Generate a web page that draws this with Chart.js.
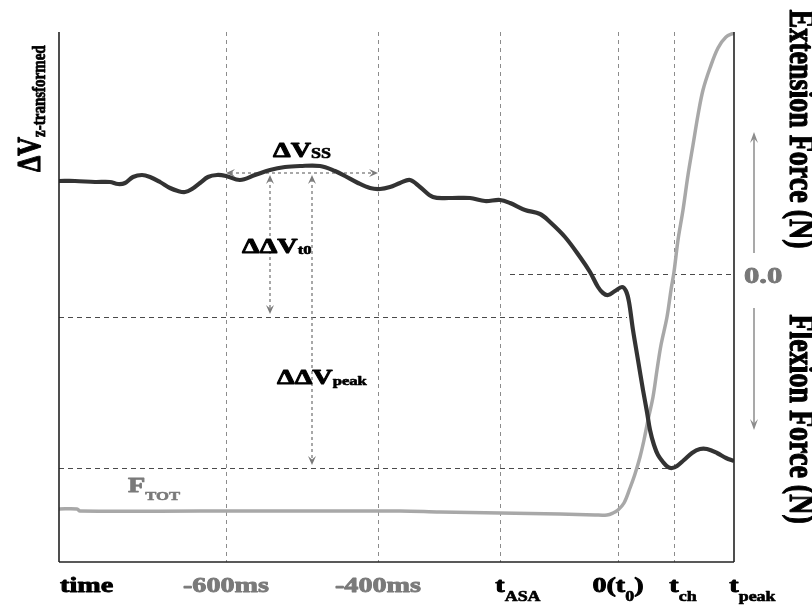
<!DOCTYPE html>
<html>
<head>
<meta charset="utf-8">
<script src="https://cdn.jsdelivr.net/npm/chart.js@4.4.1/dist/chart.umd.min.js"></script>
<style>
html,body{margin:0;padding:0;background:#fff;}
canvas{display:block;}
</style>
</head>
<body>
<canvas id="c" width="812" height="606"></canvas>
<script>
// ---------- DATA (schematic units) ----------
// ΔV (z-transformed) trace: schematic time units / arbitrary ΔV units
const vTime   = [0,16,36,51,59,66,74,83,91,101,111,119,126,133,141,149,158,167,181,196,211,226,241,261,276,286,299,311,321,331,341,351,361,374,391,411,426,441,451,466,481,491,506,521,531,539,544,549,556,563,567,570,574,579,584,588,591,595,599,604,609,613,618,625,633,641,648,658,667,675];
const vValues = [381,381,380,380,378,379,385,387,385,380,374,371,370,373,379,385,387,386,382,387,392,395,396,396,391,386,379,374,373,375,379,382,375,365,364,364,361,362,359,352,348,340,325,305,290,275,269,267,271,275,271,260,232,202,172,150,132,117,107,100,95,94,96,102,109,113,113,109,104,101];

// Total force trace F_TOT (extension positive, flexion negative)
const fTime   = [0,18,21,141,341,381,441,501,536,548,554,559,565,571,576,581,585,589,594,598,602,608,612,615,619,624,629,634,639,644,651,659,667,675];
const fValues = [-235,-235,-237,-237,-237,-238,-239,-240,-241,-241,-239,-236,-229,-214,-200,-183,-166,-146,-123,-96,-71,-43,-16,2,34,64,99,129,159,184,206,226,237,241];

// Time axis labels (main text, subscript, trailing text)
const xTickValues = [0, 167, 319, 441, 559, 615, 675];
const xTickMain   = ['time', '-600ms', '-400ms', 't', '0(t', 't', 't'];
const xTickSub    = ['', '', '', 'ASA', '0', 'ch', 'peak'];
const xTickTail   = ['', '', '', '', ')', '', ''];
const gridXValues = [167, 319, 441, 559, 615];

// Reference levels
const vLevels     = [245, 94];          // ΔV at t0, ΔV at peak
const vLevelEnds  = [568, 614];         // where those dashed levels stop (time units)
const forceZero   = 0;
const forceZeroStart = 451;
const vSteady     = 389;                // ΔV_SS arrow level
const ssRange     = [167, 319];
const arrowTimes  = [211, 253];         // ΔΔV_t0, ΔΔV_peak arrows
const arrowTops   = [387, 387];
const arrowBottoms= [248, 97];

// ---------- DRAWING HELPERS ----------
const SERIF = '"Liberation Serif", "Times New Roman", serif';
const SX = 1.28;
function fnt(sz){ return 'bold ' + sz + 'px ' + SERIF; }
function rich(ctx, x, y, segs, o) {
  o = o || {};
  ctx.save();
  ctx.translate(x, y);
  ctx.scale(o.sx || SX, 1);
  if (o.rot) ctx.rotate(o.rot);
  const widths = segs.map(s => { ctx.font = fnt(s.size); return ctx.measureText(s.text).width; });
  const total = widths.reduce((a, b) => a + b, 0);
  let cx = 0;
  if (o.align === 'center') cx = -total / 2;
  else if (o.align === 'first') cx = -widths[0] / 2;
  else if (o.align === 'right') cx = -total;
  ctx.textBaseline = 'alphabetic';
  ctx.textAlign = 'left';
  ctx.lineJoin = 'round';
  segs.forEach((s, i) => {
    ctx.font = fnt(s.size);
    const c = s.color || o.color || '#000';
    ctx.fillStyle = c;
    ctx.strokeStyle = c;
    ctx.lineWidth = s.size > 16 ? 0.9 : 0.6;
    ctx.fillText(s.text, cx, s.dy || 0);
    ctx.strokeText(s.text, cx, s.dy || 0);
    cx += widths[i];
  });
  ctx.restore();
}
function head(ctx, x, y, ang, len, wid, color) {
  ctx.save();
  ctx.translate(x, y);
  ctx.rotate(ang);
  ctx.beginPath();
  ctx.moveTo(0, 0);
  ctx.lineTo(-len, -wid / 2);
  ctx.lineTo(-len * 0.6, 0);
  ctx.lineTo(-len, wid / 2);
  ctx.closePath();
  ctx.fillStyle = color;
  ctx.fill();
  ctx.restore();
}
function seg(ctx, x1, y1, x2, y2) {
  ctx.beginPath(); ctx.moveTo(x1, y1); ctx.lineTo(x2, y2); ctx.stroke();
}

const schematic = {
  id: 'schematic',
  beforeDatasetsDraw(chart) {
    const { ctx, chartArea: a, scales } = chart;
    const x = scales.x, y = scales.y, y1 = scales.y1;
    ctx.save();
    ctx.lineWidth = 1;
    ctx.strokeStyle = '#8c8c8c';
    ctx.setLineDash([4, 4]);
    gridXValues.forEach(v => {
      const px = Math.round(x.getPixelForValue(v)) + 0.5;
      seg(ctx, px, a.top, px, a.bottom);
    });
    ctx.strokeStyle = '#4a4a4a';
    ctx.setLineDash([5, 4]);
    vLevels.forEach((lv, i) => {
      const py = Math.round(y.getPixelForValue(lv)) + 0.5;
      seg(ctx, a.left, py, x.getPixelForValue(vLevelEnds[i]), py);
    });
    const pz = Math.round(y1.getPixelForValue(forceZero)) + 0.5;
    seg(ctx, x.getPixelForValue(forceZeroStart), pz, a.right, pz);

    // dashed annotation arrows
    const ac = '#7a7a7a';
    ctx.strokeStyle = ac;
    ctx.lineWidth = 1.3;
    ctx.setLineDash([3, 3]);
    const ys = y.getPixelForValue(vSteady);
    const xa = x.getPixelForValue(ssRange[0]), xb = x.getPixelForValue(ssRange[1]);
    seg(ctx, xa + 4, ys, xb - 4, ys);
    ctx.setLineDash([]);
    head(ctx, xa, ys, Math.PI, 9, 8, ac);
    head(ctx, xb, ys, 0, 9, 8, ac);
    arrowTimes.forEach((t, i) => {
      const px = x.getPixelForValue(t);
      const pt = y.getPixelForValue(arrowTops[i]);
      const pb = y.getPixelForValue(arrowBottoms[i]);
      ctx.setLineDash([3, 3]);
      seg(ctx, px, pt + 4, px, pb - 4);
      ctx.setLineDash([]);
      head(ctx, px, pt, -Math.PI / 2, 9, 8, ac);
      head(ctx, px, pb, Math.PI / 2, 9, 8, ac);
    });
    ctx.restore();
  },
  afterDatasetsDraw(chart) {
    const { ctx, chartArea: a, scales } = chart;
    const x = scales.x, y = scales.y, y1 = scales.y1;
    ctx.save();
    // axes
    ctx.strokeStyle = '#222';
    ctx.lineWidth = 1.6;
    ctx.setLineDash([]);
    seg(ctx, a.left, a.top, a.left, a.bottom);
    seg(ctx, a.left, a.bottom, a.right, a.bottom);
    seg(ctx, a.right, a.top, a.right, a.bottom);

    // time axis labels
    const base = a.bottom + 30;
    xTickValues.forEach((v, i) => {
      const col = (i === 1 || i === 2) ? '#7a7a7a' : '#000';
      const segs = [{ text: xTickMain[i], size: 22, color: col }];
      if (xTickSub[i]) segs.push({ text: xTickSub[i], size: 14, dy: 9, color: col });
      if (xTickTail[i]) segs.push({ text: xTickTail[i], size: 22, color: col });
      let align = 'center';
      if (i === 0) align = 'left';
      else if (xTickSub[i] && !xTickTail[i]) align = 'first';
      const px = x.getPixelForValue(v) + (i === 0 ? 1 : 0);
      rich(ctx, px, base, segs, { align });
    });

    // left title
    rich(ctx, a.left - 19, y.getPixelForValue(390), [
      { text: 'ΔV', size: 26 },
      { text: 'z-transformed', size: 15, dy: 4 }
    ], { rot: -Math.PI / 2, align: 'left' });

    // right titles
    rich(ctx, a.right + 56, y1.getPixelForValue(145), [{ text: 'Extension Force (N)', size: 28 }], { rot: Math.PI / 2, align: 'center' });
    rich(ctx, a.right + 56, y1.getPixelForValue(-145), [{ text: 'Flexion Force (N)', size: 28 }], { rot: Math.PI / 2, align: 'center' });

    // 0.0 label
    rich(ctx, a.right + 10, y1.getPixelForValue(forceZero) + 9, [{ text: '0.0', size: 24 }], { color: '#777' });

    // right arrows
    const rc = '#8c8c8c';
    const ax = a.right + 20;
    ctx.strokeStyle = rc;
    ctx.lineWidth = 1.5;
    const u1 = y1.getPixelForValue(21), u2 = y1.getPixelForValue(142);
    seg(ctx, ax, u1, ax, u2 + 6);
    head(ctx, ax, u2, -Math.PI / 2, 11, 8, rc);
    const d1 = y1.getPixelForValue(-34), d2 = y1.getPixelForValue(-156);
    seg(ctx, ax, d1, ax, d2 - 6);
    head(ctx, ax, d2, Math.PI / 2, 11, 8, rc);

    // annotation labels
    rich(ctx, x.getPixelForValue(243), y.getPixelForValue(405), [
      { text: 'ΔV', size: 22 }, { text: 'SS', size: 14, dy: 1 }
    ], { align: 'center' });
    rich(ctx, x.getPixelForValue(183), y.getPixelForValue(309), [
      { text: 'ΔΔV', size: 22 }, { text: 't0', size: 13, dy: 1 }
    ], { align: 'left' });
    rich(ctx, x.getPixelForValue(218), y.getPixelForValue(178), [
      { text: 'ΔΔV', size: 22 }, { text: 'peak', size: 13, dy: 1 }
    ], { align: 'left' });
    rich(ctx, x.getPixelForValue(69), y.getPixelForValue(70), [
      { text: 'F', size: 22 }, { text: 'TOT', size: 13, dy: 8 }
    ], { align: 'left', color: '#7a7a7a' });
    ctx.restore();
  }
};

new Chart(document.getElementById('c'), {
  type: 'line',
  data: {
    datasets: [
      {
        label: 'ΔV',
        data: vTime.map((t, i) => ({ x: t, y: vValues[i] })),
        yAxisID: 'y',
        borderColor: '#333333',
        borderWidth: 4.2,
        pointRadius: 0,
        tension: 0.35,
        fill: false
      },
      {
        label: 'F_TOT',
        data: fTime.map((t, i) => ({ x: t, y: fValues[i] })),
        yAxisID: 'y1',
        borderColor: '#a8a8a8',
        borderWidth: 3.5,
        pointRadius: 0,
        tension: 0.35,
        fill: false
      }
    ]
  },
  options: {
    responsive: false,
    animation: false,
    devicePixelRatio: 1,
    layout: { padding: { left: 59, top: 32, right: 78, bottom: 44 } },
    scales: {
      x: { type: 'linear', min: 0, max: 675, display: false },
      y: { type: 'linear', min: 0, max: 530, display: false },
      y1: { type: 'linear', min: -288, max: 242, display: false, position: 'right' }
    },
    plugins: { legend: { display: false }, tooltip: { enabled: false } }
  },
  plugins: [schematic]
});
</script>
</body>
</html>
